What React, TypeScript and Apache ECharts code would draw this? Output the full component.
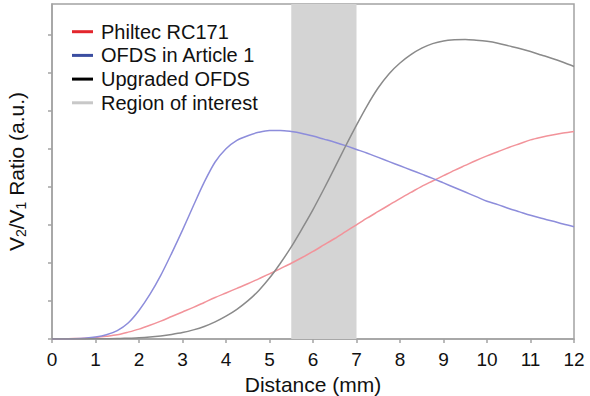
import React, { useEffect, useRef } from "react";
import * as echarts from "echarts";

const distance = [
  0, 0.25, 0.5, 0.75, 1, 1.25, 1.5, 1.75, 2, 2.25, 2.5, 2.75, 3, 3.25, 3.5, 3.75, 4, 4.25, 4.5, 4.75, 5, 5.25, 5.5, 5.75,
  6, 6.25, 6.5, 6.75, 7, 7.25, 7.5, 7.75, 8, 8.25, 8.5, 8.75, 9, 9.25, 9.5, 9.75, 10, 10.25, 10.5, 10.75, 11, 11.25, 11.5, 11.75, 12,
];
const philtec = [
  0, 0.003, 0.01, 0.02, 0.04, 0.07, 0.11, 0.18, 0.26, 0.36, 0.47, 0.59, 0.71, 0.83, 0.96, 1.09, 1.21, 1.33, 1.45, 1.58, 1.71, 1.85, 1.99, 2.14,
  2.3, 2.47, 2.64, 2.82, 3.0, 3.18, 3.35, 3.52, 3.69, 3.85, 4.01, 4.15, 4.29, 4.43, 4.56, 4.69, 4.81, 4.92, 5.03, 5.13, 5.23, 5.3, 5.36, 5.41, 5.45,
];
const ofdsArticle1 = [
  0, 0, 0.005, 0.02, 0.05, 0.11, 0.22, 0.42, 0.75, 1.17, 1.67, 2.25, 2.86, 3.5, 4.12, 4.65, 5.0, 5.22, 5.34, 5.43, 5.48, 5.48, 5.45, 5.4,
  5.33, 5.25, 5.17, 5.08, 4.98, 4.88, 4.77, 4.66, 4.55, 4.44, 4.33, 4.22, 4.1, 3.98, 3.86, 3.74, 3.62, 3.53, 3.43, 3.34, 3.25, 3.17, 3.1, 3.02, 2.95,
];
const upgradedOfds = [
  0, 0, 0, 0.003, 0.005, 0.007, 0.01, 0.02, 0.03, 0.05, 0.08, 0.12, 0.17, 0.24, 0.33, 0.45, 0.6, 0.78, 1.0, 1.27, 1.6, 1.99, 2.42, 2.9,
  3.4, 3.94, 4.5, 5.07, 5.62, 6.14, 6.6, 6.97, 7.25, 7.47, 7.64, 7.76, 7.83, 7.86, 7.87, 7.85, 7.82, 7.77, 7.7, 7.63, 7.55, 7.46, 7.37, 7.27, 7.16,
];
const regionOfInterest = [5.5, 7];
const xTicks = [0, 1, 2, 3, 4, 5, 6, 7, 8, 9, 10, 11, 12];
const yTicks = [0, 1, 2, 3, 4, 5, 6, 7, 8];

const seriesNames = ["Philtec RC171", "OFDS in Article 1", "Upgraded OFDS", "Region of interest"];

const pair = (ys: number[]) => distance.map((x, i) => [x, ys[i]]);

export default function App() {
  const ref = useRef<HTMLDivElement>(null);
  useEffect(() => {
    document.body.style.margin = "0";
    const chart = echarts.init(ref.current!, null, { renderer: "svg" });
    const font = "'Liberation Sans', Arial, sans-serif";
    const axisColor = "#a3a3a3";
    chart.setOption({
      animation: false,
      textStyle: { fontFamily: font },
      grid: {
        left: 52,
        right: 16,
        top: 4,
        bottom: 57,
        show: true,
        borderColor: axisColor,
        borderWidth: 1.5,
        backgroundColor: "transparent",
        containLabel: false,
        outerBoundsMode: "none",
      },
      legend: {
        orient: "vertical",
        left: 67,
        top: 16.7,
        itemWidth: 21,
        itemHeight: 3,
        itemGap: 3.7,
        icon: "rect",
        textStyle: { fontSize: 20, color: "#111", lineHeight: 20, padding: [0, 0, 0, 3], fontFamily: font },
        data: [
          { name: seriesNames[0], itemStyle: { color: "#e3262d" } },
          { name: seriesNames[1], itemStyle: { color: "#3b4ea1" } },
          { name: seriesNames[2], itemStyle: { color: "#000000" } },
          { name: seriesNames[3], itemStyle: { color: "#c8c8c8" } },
        ],
        selectedMode: false,
      },
      xAxis: {
        type: "value",
        min: 0,
        max: 12,
        interval: 1,
        name: "Distance (mm)",
        nameLocation: "middle",
        nameGap: 34,
        nameTextStyle: { fontSize: 21, color: "#111", fontFamily: font },
        axisLine: { show: true, lineStyle: { color: axisColor, width: 1.5 } },
        axisTick: { show: true, length: 4, lineStyle: { color: axisColor, width: 1.5 }, customValues: xTicks },
        axisLabel: { fontSize: 19, color: "#111", margin: 11, customValues: xTicks },
        splitLine: { show: false },
      },
      yAxis: {
        type: "value",
        min: 0,
        max: 8.8,
        interval: 1,
        name: "V{sub|2}/V{sub|1} Ratio (a.u.)",
        nameLocation: "middle",
        nameGap: 24,
        nameTextStyle: {
          fontSize: 21,
          color: "#111",
          fontFamily: font,
          lineHeight: 24,
          rich: {
            sub: { fontSize: 14, lineHeight: 13, verticalAlign: "bottom", color: "#111", fontFamily: font },
          },
        },
        axisLine: { show: true, lineStyle: { color: axisColor, width: 1.5 } },
        axisTick: { show: true, length: 4, lineStyle: { color: axisColor, width: 1.5 }, customValues: yTicks },
        axisLabel: { show: false },
        splitLine: { show: false },
      },
      series: [
        {
          name: seriesNames[3],
          type: "line",
          data: [],
          itemStyle: { color: "#c8c8c8" },
          markArea: {
            silent: true,
            itemStyle: { color: "#d4d4d4", opacity: 1 },
            data: [[{ xAxis: regionOfInterest[0] }, { xAxis: regionOfInterest[1] }]],
          },
        },
        {
          name: seriesNames[0],
          type: "line",
          data: pair(philtec),
          smooth: 0.3,
          showSymbol: false,
          itemStyle: { color: "#e3262d" },
          lineStyle: { color: "#f2939a", width: 1.5 },
        },
        {
          name: seriesNames[1],
          type: "line",
          data: pair(ofdsArticle1),
          smooth: 0.3,
          showSymbol: false,
          itemStyle: { color: "#3b4ea1" },
          lineStyle: { color: "#8d8ddb", width: 1.5 },
        },
        {
          name: seriesNames[2],
          type: "line",
          data: pair(upgradedOfds),
          smooth: 0.3,
          showSymbol: false,
          itemStyle: { color: "#000000" },
          lineStyle: { color: "#8a8a8a", width: 1.5 },
        },
      ],
    });
    return () => chart.dispose();
  }, []);
  return <div ref={ref} style={{ width: 590, height: 396 }} />;
}
